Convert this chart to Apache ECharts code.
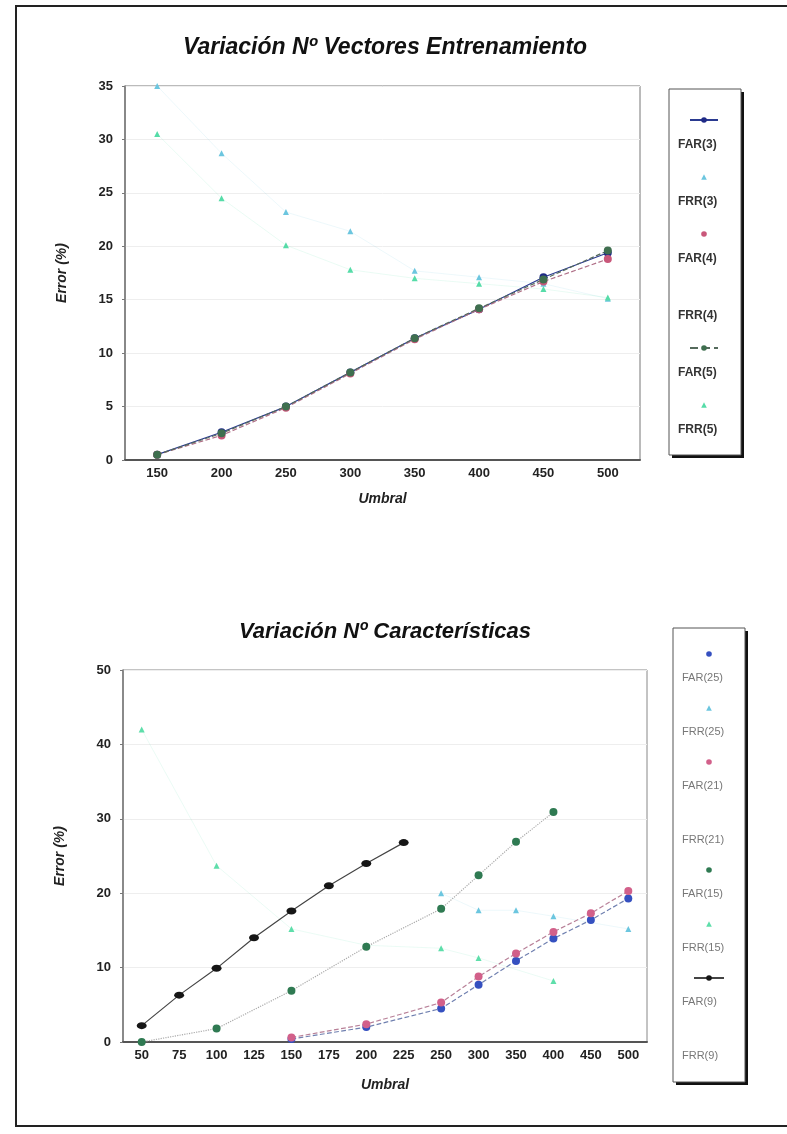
<!DOCTYPE html>
<html>
<head>
<meta charset="utf-8">
<script src="https://cdn.jsdelivr.net/npm/echarts@6.0.0/dist/echarts.min.js"></script>
<style>
  html, body { margin: 0; padding: 0; background: #fff; }
  #chart { width: 787px; height: 1134px; }
</style>
</head>
<body>
<div id="chart"></div>
<script>
// ============ datos: gráfico superior (Nº vectores) ============
const umbralTop = ['150', '200', '250', '300', '350', '400', '450', '500']
const far3 = [0.5, 2.6, 5.0, 8.2, 11.4, 14.1, 17.1, 19.4]
const frr3 = [35.0, 28.7, 23.2, 21.4, 17.7, 17.1, 16.5, 15.1]
const far4 = [0.5, 2.3, 4.9, 8.1, 11.3, 14.1, 16.7, 18.8]
const frr4 = []
const far5 = [0.5, 2.5, 5.0, 8.2, 11.4, 14.2, 16.9, 19.6]
const frr5 = [30.5, 24.5, 20.1, 17.8, 17.0, 16.5, 16.0, 15.2]

// ============ datos: gráfico inferior (Nº características) ============
const umbralBot = ['50', '75', '100', '125', '150', '175', '200', '225', '250', '300', '350', '400', '450', '500']
const far25 = [null, null, null, null, 0.4, null, 2.0, null, 4.5, 7.7, 10.9, 13.9, 16.4, 19.3]
const frr25 = [null, null, null, null, null, null, null, null, 20.0, 17.7, 17.7, 16.9, null, 15.2]
const far21 = [null, null, null, null, 0.6, null, 2.4, null, 5.3, 8.8, 11.9, 14.8, 17.3, 20.3]
const frr21 = []
const far15 = [0.0, null, 1.8, null, 6.9, null, 12.8, null, 17.9, 22.4, 26.9, 30.9, null, null]
const frr15 = [42.0, null, 23.7, null, 15.2, null, 13.0, null, 12.6, 11.3, null, 8.2, null, null]
const far9 = [2.2, 6.3, 9.9, 14.0, 17.6, 21.0, 24.0, 26.8, null, null, null, null, null, null]
const frr9 = []

const namesTop = ['FAR(3)', 'FRR(3)', 'FAR(4)', 'FRR(4)', 'FAR(5)', 'FRR(5)']
const namesBot = ['FAR(25)', 'FRR(25)', 'FAR(21)', 'FRR(21)', 'FAR(15)', 'FRR(15)', 'FAR(9)', 'FRR(9)']
// en la leyenda sólo estos llevan línea; los vacíos no llevan icono
const withLine = ['FAR(3)', 'FAR(5)', 'FAR(9)']
const noIcon = ['FRR(4)', 'FRR(21)', 'FRR(9)']

const FONT = 'Liberation Sans, Arial, sans-serif'

// serie FAR: marcador redondo + línea
const farSeries = (name, data, idx, color, lineColor, lineType, size) => ({
  name,
  type: 'line',
  xAxisIndex: idx,
  yAxisIndex: idx,
  data,
  connectNulls: true,
  symbol: 'circle',
  symbolSize: size || 8,
  itemStyle: { color, borderColor: color, borderWidth: 0 },
  lineStyle: { color: lineColor, width: 1.2, type: lineType },
  z: 3
})

// serie FRR: marcador pequeño claro, línea casi invisible
const frrSeries = (name, data, idx, color) => ({
  name,
  type: 'line',
  xAxisIndex: idx,
  yAxisIndex: idx,
  data,
  connectNulls: true,
  symbol: data.length ? 'triangle' : 'none',
  symbolSize: 6,
  itemStyle: { color },
  lineStyle: { color, width: 1, opacity: data.length ? 0.12 : 0 },
  z: 2
})

const xAxisBase = (idx, data) => ({
  type: 'category',
  gridIndex: idx,
  data,
  boundaryGap: true,
  name: 'Umbral',
  nameLocation: 'middle',
  nameGap: idx === 0 ? 32 : 36,
  nameTextStyle: { fontFamily: FONT, fontSize: 14, fontWeight: 'bold', fontStyle: 'italic', color: '#222' },
  axisLine: { lineStyle: { color: '#555', width: 2 } },
  axisTick: { show: false },
  axisLabel: { interval: 0, margin: 7, fontFamily: FONT, fontSize: 13, fontWeight: 'bold', color: '#222' }
})

const yAxisBase = (idx, max, step) => ({
  type: 'value',
  gridIndex: idx,
  min: 0,
  max,
  interval: step,
  name: 'Error (%)',
  nameLocation: 'middle',
  nameGap: 56,
  nameTextStyle: { fontFamily: FONT, fontSize: 14, fontWeight: 'bold', fontStyle: 'italic', color: '#222' },
  axisLine: { show: true, lineStyle: { color: '#777', width: 1.5 } },
  axisTick: { show: true, length: 3, lineStyle: { color: '#777' } },
  axisLabel: { margin: 12, fontFamily: FONT, fontSize: 13, fontWeight: 'bold', color: '#222' },
  splitLine: { lineStyle: { color: '#eeeeee' } }
})

// leyenda tipo Excel: icono encima del texto -> dos leyendas superpuestas
const iconLegend = (names, left, top, gap, width) => ({
  orient: 'vertical',
  left,
  top,
  itemWidth: width,
  itemHeight: 7,
  itemGap: gap,
  selectedMode: false,
  formatter: () => ' ',
  textStyle: { fontSize: 7, lineHeight: 7 },
  data: names.map((n) => {
    if (noIcon.includes(n)) return { name: n, itemStyle: { opacity: 0 }, lineStyle: { opacity: 0 } }
    if (withLine.includes(n)) return { name: n }
    return { name: n, lineStyle: { opacity: 0 } }
  })
})

const textLegend = (names, left, top, gap, style) => ({
  orient: 'vertical',
  left,
  top,
  itemWidth: 0,
  itemHeight: 0,
  itemGap: gap,
  selectedMode: false,
  itemStyle: { opacity: 0 },
  lineStyle: { opacity: 0 },
  textStyle: Object.assign({ fontFamily: FONT }, style),
  data: names
})

// recuadro de leyenda con sombra negra abajo/derecha
const legendBox = (x, y, w, h) => [
  { type: 'rect', shape: { x: x + 3, y: y + 3, width: w, height: h }, style: { fill: '#111' }, z: 0 },
  { type: 'rect', shape: { x, y, width: w, height: h }, style: { fill: '#fff', stroke: '#555', lineWidth: 1 }, z: 1 }
]

const chart = echarts.init(document.getElementById('chart'))
chart.setOption({
  animation: false,
  backgroundColor: '#fff',
  title: [
    {
      text: 'Variación Nº Vectores Entrenamiento',
      left: 380, top: 31, textAlign: 'center',
      textStyle: { fontFamily: FONT, fontSize: 23, fontWeight: 'bold', fontStyle: 'italic', color: '#111' }
    },
    {
      text: 'Variación Nº Características',
      left: 380, top: 616, textAlign: 'center',
      textStyle: { fontFamily: FONT, fontSize: 22, fontWeight: 'bold', fontStyle: 'italic', color: '#111' }
    }
  ],
  graphic: [
    {
      type: 'rect',
      shape: { x: 16, y: 6, width: 800, height: 1120 },
      style: { fill: 'none', stroke: '#222', lineWidth: 2 },
      z: 0
    },
    ...legendBox(669, 89, 72, 366),
    ...legendBox(673, 628, 72, 454)
  ],
  grid: [
    { left: 125, top: 86, width: 515, height: 374, show: true, borderColor: '#777', borderWidth: 1 },
    { left: 123, top: 670, width: 524, height: 372, show: true, borderColor: '#888', borderWidth: 1 }
  ],
  xAxis: [xAxisBase(0, umbralTop), xAxisBase(1, umbralBot)],
  yAxis: [yAxisBase(0, 35, 5), yAxisBase(1, 50, 10)],
  legend: [
    iconLegend(namesTop, 684, 111.5, 50, 28),
    textLegend(namesTop, 667, 133, 43, { fontSize: 12, fontWeight: 'bold', color: '#333', lineHeight: 14 }),
    iconLegend(namesBot, 688, 645.5, 47, 30),
    textLegend(namesBot, 671, 666.5, 41, { fontSize: 11, color: '#777', lineHeight: 13 })
  ],
  series: [
    farSeries('FAR(3)', far3, 0, '#1f2a86', '#2a3a90', 'solid'),
    frrSeries('FRR(3)', frr3, 0, '#6cc6df'),
    farSeries('FAR(4)', far4, 0, '#c9577a', '#b07088', 'dashed'),
    frrSeries('FRR(4)', frr4, 0, '#9fd8e8'),
    farSeries('FAR(5)', far5, 0, '#3f6f4f', '#556a5c', 'dashed'),
    frrSeries('FRR(5)', frr5, 0, '#56dca8'),

    farSeries('FAR(25)', far25, 1, '#3550c0', '#7080b0', 'dashed'),
    frrSeries('FRR(25)', frr25, 1, '#6cc6df'),
    farSeries('FAR(21)', far21, 1, '#d2608a', '#b88098', 'dashed'),
    frrSeries('FRR(21)', frr21, 1, '#9fd8e8'),
    farSeries('FAR(15)', far15, 1, '#2f7a52', '#aaaaaa', 'dotted'),
    frrSeries('FRR(15)', frr15, 1, '#5edeaa'),
    farSeries('FAR(9)', far9, 1, '#161616', '#444', 'solid', [10, 7]),
    frrSeries('FRR(9)', frr9, 1, '#cccccc')
  ]
})
</script>
</body>
</html>
